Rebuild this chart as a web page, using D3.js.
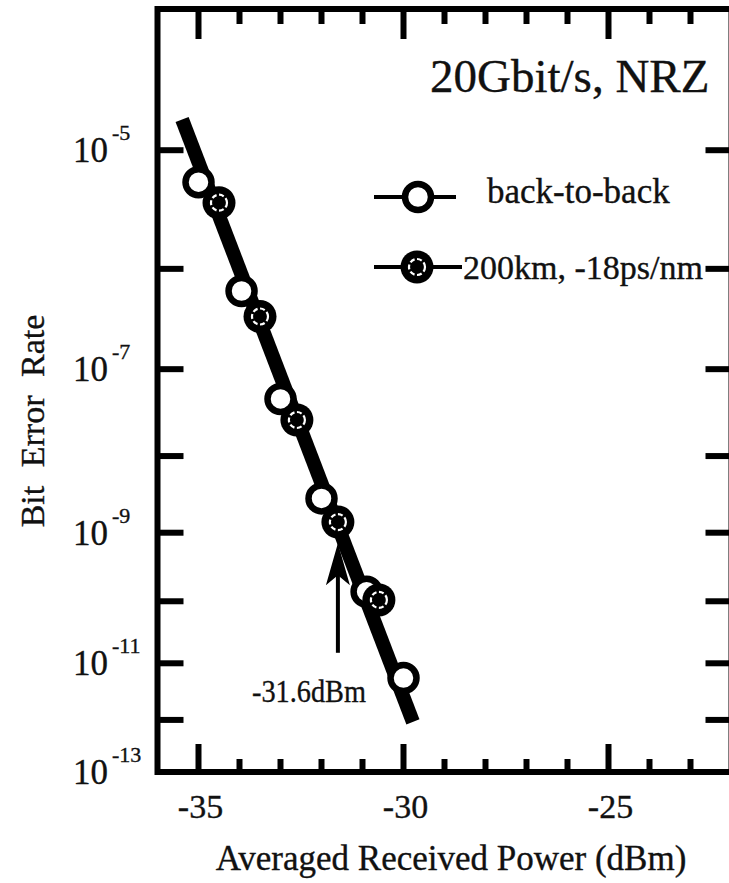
<!DOCTYPE html>
<html>
<head>
<meta charset="utf-8">
<script src="https://cdn.jsdelivr.net/npm/d3@7"></script>
<style>
  html, body { margin: 0; padding: 0; background: #fff; }
  svg { display: block; }
  text { font-family: "Liberation Serif", "Times New Roman", serif; fill: #111; stroke: #111; stroke-width: 0.35; }
</style>
</head>
<body>
<svg id="chart" width="729" height="883"></svg>
<script>
// ---------- data ----------
const xMajorTicks = [-35, -30, -25];
const xMinorTicks = [-35, -34, -33, -32, -31, -30, -29, -28, -27, -26, -25, -24, -23];
const yTickExps = [5, 6, 7, 8, 9, 10, 11, 12];
const yLabelExps = [5, 7, 9, 11, 13];

const b2bPower = [-35.0, -33.95, -33.0, -32.0, -30.9, -30.0];
const b2bBER   = [5.6e-6, 6.2e-7, 4.7e-8, 2.9e-9, 1.4e-10, 5.6e-12];

const fiberPower = [-34.5, -33.5, -32.6, -31.6, -30.6];
const fiberBER   = [3.8e-6, 3.5e-7, 2.7e-8, 1.4e-9, 1.05e-10];

const fitPower = [-35.4, -29.77];
const fitBER   = [1.7e-5, 9.2e-13];

const arrowPower = -31.6;
const arrowBER = [1.5e-11, 7.1e-10];

const titleText = "20Gbit/s, NRZ";
const legendLabels = ["back-to-back", "200km, -18ps/nm"];
const xTitle = "Averaged Received Power (dBm)";
const yTitle = "Bit Error Rate";
const annotText = "-31.6dBm";

(function () {
// ---------- scales ----------
const svg = d3.select("#chart");
const x = d3.scaleLinear().domain([-36, -22]).range([157.5, 731.5]);
// BER plotted on log(-log10(BER)) axis
const yExp = d3.scaleLog().domain([4, 13]).range([5, 772]);
const y = ber => yExp(-Math.log10(ber));

const pL = x(-36), pR = x(-22), pB = yExp(13), pT = 9;

// ---------- frame ----------
svg.append("path")
  .attr("d", `M${pL},${pB} L${pL},${pT} L${pR},${pT} L${pR},${pB} Z`)
  .attr("fill", "none").attr("stroke", "#000").attr("stroke-width", 6);

// y ticks (left & right)
const gy = svg.append("g");
gy.append("g").selectAll("line").data(yTickExps).join("line")
  .attr("x1", pL).attr("x2", pL + 26)
  .attr("y1", d => yExp(d)).attr("y2", d => yExp(d))
  .attr("stroke", "#000").attr("stroke-width", 6);
gy.append("g").selectAll("line").data(yTickExps).join("line")
  .attr("x1", pR - 26).attr("x2", pR)
  .attr("y1", d => yExp(d)).attr("y2", d => yExp(d))
  .attr("stroke", "#000").attr("stroke-width", 6);

// x ticks bottom & top
const gx = svg.append("g");
function xticks(vals, len) {
  gx.append("g").selectAll("line").data(vals).join("line")
    .attr("x1", d => x(d)).attr("x2", d => x(d))
    .attr("y1", pB).attr("y2", pB - len)
    .attr("stroke", "#000").attr("stroke-width", 6);
  gx.append("g").selectAll("line").data(vals).join("line")
    .attr("x1", d => x(d)).attr("x2", d => x(d))
    .attr("y1", pT).attr("y2", pT + len + 2)
    .attr("stroke", "#000").attr("stroke-width", 6);
}
xticks(xMinorTicks.filter(d => !xMajorTicks.includes(d)), 13);
xticks(xMajorTicks, 28);

// y labels 10^-n
const yl = svg.append("g");
yLabelExps.forEach(e => {
  const yy = yExp(e);
  yl.append("text").attr("x", 108).attr("y", yy + 12)
    .attr("text-anchor", "end").attr("font-size", 35).text("10");
  yl.append("text").attr("x", 112).attr("y", yy - 10)
    .attr("font-size", 22).text("-" + e);
});

// x labels
svg.append("g").selectAll("text").data(xMajorTicks).join("text")
  .attr("x", d => x(d) + 2).attr("y", 818)
  .attr("text-anchor", "middle").attr("font-size", 34)
  .text(d => d);

// axis titles
svg.append("text").attr("x", 451).attr("y", 870)
  .attr("text-anchor", "middle").attr("font-size", 35).text(xTitle);
svg.append("text")
  .attr("transform", "translate(44,421) rotate(-90)")
  .attr("text-anchor", "middle").attr("font-size", 34)
  .attr("word-spacing", 10).text(yTitle);

// title
svg.append("text").attr("x", 430).attr("y", 92)
  .attr("font-size", 47).text(titleText);

// ---------- fit line ----------
const line = d3.line().x((d, i) => x(fitPower[i])).y((d, i) => y(fitBER[i]));
svg.append("path").datum(fitPower)
  .attr("d", line).attr("fill", "none")
  .attr("stroke", "#000").attr("stroke-width", 14);

// ---------- arrow ----------
const ax = x(arrowPower), ay0 = y(arrowBER[0]), ay1 = y(arrowBER[1]);
svg.append("line").attr("x1", ax).attr("x2", ax).attr("y1", ay0).attr("y2", ay1 + 10)
  .attr("stroke", "#000").attr("stroke-width", 4);
svg.append("path")
  .attr("d", `M${ax},${ay1} L${ax - 12},${ay1 + 42} L${ax},${ay1 + 32} L${ax + 12},${ay1 + 42} Z`)
  .attr("fill", "#000");
svg.append("text").attr("x", 252).attr("y", 702)
  .attr("font-size", 31).attr("textLength", 114).attr("lengthAdjust", "spacingAndGlyphs")
  .text(annotText);

// ---------- markers ----------
function openMarker(g, cx, cy) {
  g.append("circle").attr("cx", cx).attr("cy", cy).attr("r", 13)
    .attr("fill", "#fff").attr("stroke", "#000").attr("stroke-width", 6.5);
}
function filledMarker(g, cx, cy) {
  g.append("circle").attr("cx", cx).attr("cy", cy).attr("r", 16.5).attr("fill", "#000");
  g.append("circle").attr("cx", cx).attr("cy", cy).attr("r", 8)
    .attr("fill", "none").attr("stroke", "#fff").attr("stroke-width", 2.2)
    .attr("stroke-dasharray", "5,2.5");
}
const gm = svg.append("g");
b2bPower.forEach((p, i) => openMarker(gm, x(p), y(b2bBER[i])));
fiberPower.forEach((p, i) => filledMarker(gm, x(p), y(fiberBER[i])));

// ---------- legend ----------
const lg = svg.append("g");
lg.append("line").attr("x1", 374).attr("x2", 456).attr("y1", 197).attr("y2", 197)
  .attr("stroke", "#000").attr("stroke-width", 4);
openMarker(lg, 418, 197);
lg.append("text").attr("x", 487).attr("y", 203).attr("font-size", 35).text(legendLabels[0]);

lg.append("line").attr("x1", 374).attr("x2", 462).attr("y1", 267).attr("y2", 267)
  .attr("stroke", "#000").attr("stroke-width", 4);
filledMarker(lg, 417, 267);
lg.append("text").attr("x", 463).attr("y", 279).attr("font-size", 34).text(legendLabels[1]);
})();
</script>
</body>
</html>
